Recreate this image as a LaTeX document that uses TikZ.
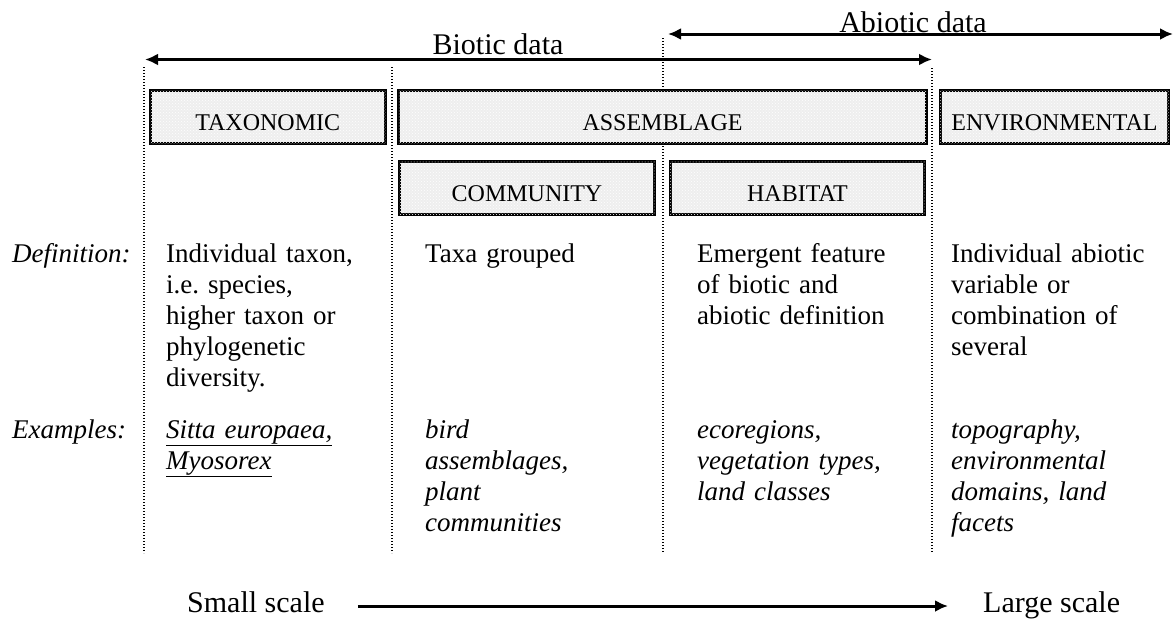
\documentclass[tikz,border=0pt]{standalone}
\usepackage{fontspec}
\setmainfont{Liberation Serif}
\frenchspacing
\usetikzlibrary{arrows.meta,patterns}
\begin{document}
\begin{tikzpicture}[x=1pt,y=-1pt,
  box/.style={draw=black,line width=2.8pt,fill=gray!13,
     postaction={pattern=crosshatch dots,pattern color=white},
     inner sep=0pt,text height=26pt,text depth=0pt,
     font=\fontsize{24}{28}\selectfont},
  sepline/.style={line width=1.3pt,dash pattern=on 1.3pt off 1.7pt},
  conn/.style={line width=3pt,{Latex[length=13pt,width=12pt]}-{Latex[length=13pt,width=12pt]}},
  scalearrow/.style={line width=3pt,-{Latex[length=13pt,width=12pt]}},
  big/.style={font=\fontsize{30}{34}\selectfont,inner sep=0pt},
  body/.style={font=\fontsize{27}{31}\selectfont,inner sep=0pt,anchor=base west,align=left,text width=230pt},
  ]
\useasboundingbox (0,0) rectangle (1174,621);

% top arrows
\node[big,anchor=base] (abiotic) at (913,32) {Abiotic data};
\coordinate (abL) at (668,34);
\coordinate (abR) at (1173,34);
\draw[conn] (abL) -- (abR);
\node[big,anchor=base] (biotic) at (498,54) {Biotic data};
\coordinate (biL) at (145,59.5);
\coordinate (biR) at (932,59.5);
\draw[conn] (biL) -- (biR);

% dotted separators
\coordinate (s1t) at (144,67);  \coordinate (s1b) at (144,553);
\coordinate (s2t) at (392,67);  \coordinate (s2b) at (392,553);
\coordinate (s3t) at (663,38);  \coordinate (s3b) at (663,553);
\coordinate (s4t) at (932,68);  \coordinate (s4b) at (932,553);
\draw[sepline] (s1t) -- (s1b);
\draw[sepline] (s2t) -- (s2b);
\draw[sepline] (s3t) -- (s3b);
\draw[sepline] (s4t) -- (s4b);

% boxes
\node[box,minimum width=235pt,minimum height=52.4pt] (tax) at (267.75,117) {TAXONOMIC};
\node[box,minimum width=527.4pt,minimum height=52.4pt] (ass) at (662.5,117) {ASSEMBLAGE};
\node[box,minimum width=228.4pt,minimum height=52.4pt] (env) at (1054.5,117) {ENVIRONMENTAL};
\node[box,minimum width=255.4pt,minimum height=53.4pt] (com) at (527,188) {COMMUNITY};
\node[box,minimum width=254.4pt,minimum height=53.4pt] (hab) at (797.5,188) {HABITAT};

% definitions
\node[body] (deflab) at (12,262) {\itshape Definition:};
\node[body] (def1) at (166,262) {Individual taxon,\\ i.e. species,\\ higher taxon or\\ phylogenetic\\ diversity.};
\node[body] (def2) at (425,262) {Taxa grouped};
\node[body] (def3) at (697,262) {Emergent feature\\ of biotic and\\ abiotic definition};
\node[body] (def4) at (951,262) {Individual abiotic\\ variable or\\ combination of\\ several};

% examples
\node[body] (exlab) at (12,438) {\itshape Examples:};
\node[body] (ex1) at (166,438) {\itshape \underline{Sitta europaea,}\\ \underline{Myosorex}};
\node[body] (ex2) at (425,438) {\itshape bird\\ assemblages,\\ plant\\ communities};
\node[body] (ex3) at (697,438) {\itshape ecoregions,\\ vegetation types,\\ land classes};
\node[body] (ex4) at (951,438) {\itshape topography,\\ environmental\\ domains, land\\ facets};

% scale arrow
\node[big,anchor=base west] (small) at (187,612) {Small scale};
\node[big,anchor=base west] (large) at (983,612) {Large scale};
\draw[scalearrow] ([xshift=33pt,yshift=6pt]small.base east) -- ([xshift=-35pt,yshift=6pt]large.base west);
\end{tikzpicture}
\end{document}
